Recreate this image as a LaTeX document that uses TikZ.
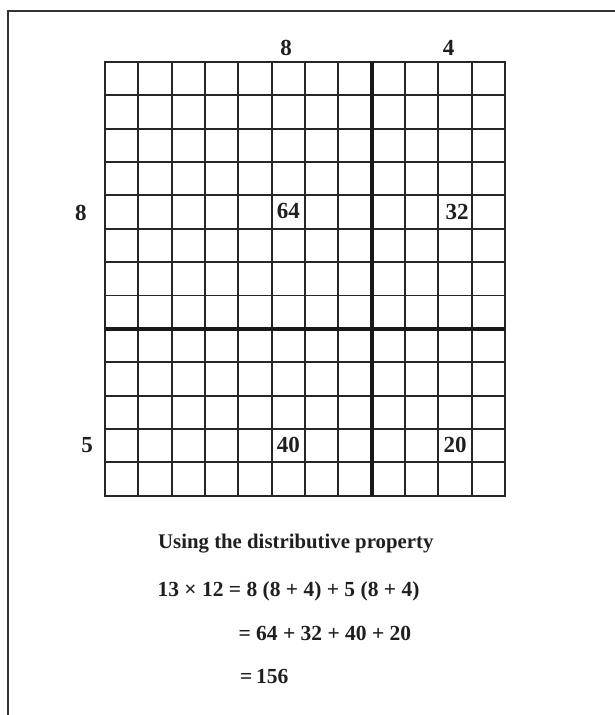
\documentclass[tikz,border=0pt]{standalone}
\usepackage{fontspec}
\setmainfont{Liberation Serif}
\begin{document}
\begin{tikzpicture}[x=1pt,y=-1pt,
  gridline/.style={line width=1.9pt,color=black!85},
  thickline/.style={line width=3.8pt,color=black!90},
  framel/.style={line width=2pt,color=black!80},
  num/.style={font=\fontsize{23}{27}\selectfont\bfseries, inner sep=0pt, text=black!88},
  eq/.style={font=\fontsize{21.5}{26}\selectfont\bfseries, inner sep=0pt, anchor=base west, text=black!88}]
\useasboundingbox (0,0) rectangle (614,715);
\draw[framel] (8.3,716) -- (8.3,10.7) -- (615,10.7);
\foreach \i in {1,...,11} \draw[gridline] ({105+\i*33.333},62) -- ({105+\i*33.333},495.7);
\foreach \j in {1,...,12} \draw[gridline] (105,{62+\j*33.36}) -- (505,{62+\j*33.36});
\draw[gridline] (105,62) rectangle (505,495.7);
\draw[thickline] (371.7,62) -- (371.7,495.7);
\draw[thickline] (105,328.9) -- (505,328.9);
\node[num] (c64) at (288.4,211) {64};
\node[num] (c32) at (457,212) {32};
\node[num] (c40) at (288.4,445) {40};
\node[num] (c20) at (455,444.5) {20};
\node[num, anchor=base] (t8) at (286,55.4) {8};
\node[num, anchor=base] (t4) at (448.6,55.4) {4};
\node[num] (l8) at (80.8,213) {8};
\node[num] (l5) at (87,445) {5};
\node[eq, font=\fontsize{20.8}{25}\selectfont\bfseries] (u) at (158,548.3) {Using the distributive property};
\node[eq] (e1) at (157.3,596) {13 × 12 = 8 (8 + 4) + 5 (8 + 4)};
\node[eq] (e2) at (238.3,640) {= 64 + 32 + 40 + 20};
\node[eq] (e3) at (240,683) {=\,156};
\end{tikzpicture}
\end{document}
